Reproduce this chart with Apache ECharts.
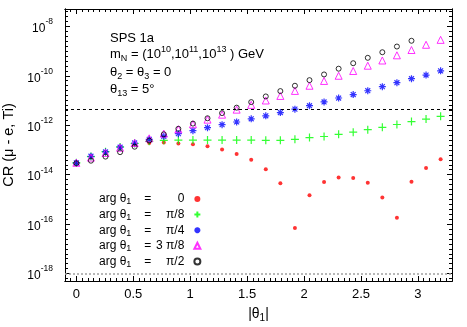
<!DOCTYPE html>
<html><head><meta charset="utf-8">
<script src="https://cdn.jsdelivr.net/npm/echarts@6/dist/echarts.min.js"></script>
<style>html,body{margin:0;padding:0;background:#fff}#c{width:467px;height:327px}</style>
</head><body><div id="c"></div>
<script>
// |theta_1| values
const theta1 = [0,0.128,0.256,0.384,0.512,0.64,0.768,0.896,1.024,1.152,1.28,1.408,1.536,1.664,1.792,1.92,2.048,2.176,2.304,2.432,2.56,2.688,2.816,2.944,3.072,3.2];
// CR(mu - e, Ti) for each arg theta_1
const crArg0 = [3.02e-14,5.37e-14,8.51e-14,1.29e-13,1.70e-13,1.91e-13,2.0e-13,1.82e-13,1.70e-13,1.41e-13,1.05e-13,6.92e-14,3.98e-14,1.66e-14,4.47e-15,6.92e-17,1.48e-15,5.01e-15,7.76e-15,7.41e-15,4.68e-15,1.20e-15,1.82e-16,5.13e-15,1.86e-14,4.17e-14];
const crArgPi8 = [3.02e-14,5.37e-14,8.51e-14,1.32e-13,1.82e-13,2.24e-13,2.45e-13,2.51e-13,2.51e-13,2.51e-13,2.51e-13,2.51e-13,2.50e-13,2.45e-13,2.45e-13,2.69e-13,3.16e-13,3.50e-13,4.30e-13,5.25e-13,6.61e-13,8.22e-13,1.07e-12,1.40e-12,1.78e-12,2.29e-12];
const crArgPi4 = [3.02e-14,5.57e-14,8.32e-14,1.29e-13,1.91e-13,2.69e-13,3.55e-13,4.57e-13,6.03e-13,7.94e-13,1.05e-12,1.35e-12,1.82e-12,2.40e-12,3.24e-12,4.47e-12,6.17e-12,8.71e-12,1.26e-11,1.74e-11,2.48e-11,3.63e-11,5.25e-11,7.59e-11,1.07e-10,1.58e-10];
const crArg3Pi8 = [3.02e-14,4.90e-14,7.59e-14,1.23e-13,1.91e-13,2.95e-13,4.57e-13,6.84e-13,1.09e-12,1.68e-12,2.67e-12,4.26e-12,6.65e-12,1.0e-11,1.53e-11,2.44e-11,3.95e-11,6.17e-11,1.0e-10,1.56e-10,2.55e-10,4.14e-10,6.71e-10,1.10e-9,1.79e-9,2.83e-9];
const crArgPi2 = [2.91e-14,3.67e-14,5.37e-14,8.13e-14,1.35e-13,2.40e-13,4.30e-13,7.16e-13,1.16e-12,1.91e-12,3.09e-12,5.13e-12,8.61e-12,1.46e-11,2.40e-11,3.95e-11,6.65e-11,1.13e-10,1.93e-10,3.22e-10,5.32e-10,8.95e-10,1.52e-9,2.60e-9];
const argLabels = ['0','π/8','π/4','3 π/8','π/2'];
// tick labels
const xTickLabels = [0,0.5,1,1.5,2,2.5,3];
const yDecadeLabels = [-18,-16,-14,-12,-10,-8];
// horizontal reference lines
const limitSindrum = 4.3e-12;
const limitPrism = 1e-18;

const FONT = 'Liberation Sans, Arial, Helvetica, sans-serif';
const X_MIN = -0.1, X_MAX = 3.3, Y_MIN = -18.3, Y_MAX = -7.3;

const xMinor = [];
for (let k = -1; k <= 65; k++) { if (k % 10 !== 0) xMinor.push(+(k * 0.05).toFixed(2)); }
const yMinor = [];
for (let k = -91; k <= -37; k++) { if (k % 10 !== 0) yMinor.push(+(k * 0.2).toFixed(1)); }

function pts(arr) { return arr.map((v, i) => [theta1[i], Math.log10(v)]); }

function xAx(pos, vals, len, labels) {
  const a = {
    type: 'value', min: X_MIN, max: X_MAX, position: pos,
    axisLine: { show: true, onZero: false, lineStyle: { color: '#000', width: 1 } }, splitLine: { show: false },
    axisTick: { show: true, inside: true, length: len, customValues: vals, lineStyle: { color: '#000', width: 1 } },
    axisLabel: { show: false }
  };
  if (labels) {
    a.axisLabel = { show: true, customValues: xTickLabels, margin: 7, fontSize: 13, color: '#000', fontFamily: FONT };
    a.name = '{a||θ}{s|1}{a||}';
    a.nameLocation = 'middle';
    a.nameGap = 24;
    a.nameTextStyle = { rich: {
      a: { fontSize: 14, fontFamily: FONT, color: '#000', lineHeight: 18 },
      s: { fontSize: 10, fontFamily: FONT, color: '#000', lineHeight: 10, verticalAlign: 'bottom' } } };
  }
  return a;
}
function yAx(pos, vals, len, labels) {
  const a = {
    type: 'value', min: Y_MIN, max: Y_MAX, position: pos,
    axisLine: { show: true, onZero: false, lineStyle: { color: '#000', width: 1 } }, splitLine: { show: false },
    axisTick: { show: true, inside: true, length: len, customValues: vals, lineStyle: { color: '#000', width: 1 } },
    axisLabel: { show: false }
  };
  if (labels) {
    a.axisLabel = { show: true, customValues: yDecadeLabels, margin: 12,
      formatter: v => '{b|10}{s|' + v + '}',
      rich: {
        b: { fontSize: 12, fontFamily: FONT, color: '#000', lineHeight: 18, padding: [5, 0, 0, 0] },
        s: { fontSize: 8.5, fontFamily: FONT, color: '#000', lineHeight: 10, verticalAlign: 'top' } } };
    a.name = 'CR (μ - e, Ti)';
    a.nameLocation = 'middle';
    a.nameGap = 39;
    a.nameTextStyle = { fontSize: 14.5, fontFamily: FONT, color: '#000' };
  }
  return a;
}

const symPlus = 'path://M0,5L10,5M5,0L5,10';
const symStar = 'path://M0,5L10,5M5,0L5,10M1.5,1.5L8.5,8.5M1.5,8.5L8.5,1.5';

function sc(name, data, symbol, size, style, extra) {
  return Object.assign({
    type: 'scatter', name: 'arg θ1 = ' + name, data: pts(data), symbol: symbol, symbolSize: size,
    symbolKeepAspect: true, xAxisIndex: 0, yAxisIndex: 0, itemStyle: style, silent: true,
    emphasis: { disabled: true }
  }, extra || {});
}

const series = [
  sc(argLabels[0], crArg0, 'circle', 4, { color: '#ff0000' }, {
    markLine: { silent: true, symbol: 'none', label: { show: false },
      data: [
        { yAxis: Math.log10(limitSindrum), lineStyle: { color: '#000', type: [3, 3], width: 1 } },
        { yAxis: Math.log10(limitPrism), lineStyle: { color: '#a0a0a0', type: [2, 2], width: 1.5 } }
      ] } }),
  sc(argLabels[1], crArgPi8, symPlus, 8, { color: 'rgba(0,0,0,0)', borderColor: '#00ff00', borderWidth: 1.2 }),
  sc(argLabels[2], crArgPi4, symStar, 7, { color: 'rgba(0,0,0,0)', borderColor: '#0000ff', borderWidth: 1.2 }),
  sc(argLabels[3], crArg3Pi8, 'triangle', 7, { color: 'rgba(0,0,0,0)', borderColor: '#ff00ff', borderWidth: 1 }),
  sc(argLabels[4], crArgPi2, 'circle', 5, { color: 'rgba(0,0,0,0)', borderColor: '#000', borderWidth: 1 })
];

const chart = echarts.init(document.getElementById('c'), null, { renderer: 'canvas' });
chart.setOption({
  animation: false,
  backgroundColor: '#fff',
  grid: { left: 65, right: 15, top: 9, bottom: 46, containLabel: false, outerBoundsMode: 'none', show: false },
  xAxis: [xAx('bottom', xTickLabels, 5, true), xAx('bottom', xMinor, 3, false), xAx('top', xTickLabels, 5, false), xAx('top', xMinor, 3, false)],
  yAxis: [yAx('left', yDecadeLabels, 5, true), yAx('left', yMinor, 3, false), yAx('right', yDecadeLabels, 5, false), yAx('right', yMinor, 3, false)],
  legend: {
    orient: 'vertical', left: 99, top: 193, padding: 0, align: 'right', itemWidth: 6, itemHeight: 6, itemGap: 2.1,
    selectedMode: false,
    formatter: n => '{a|arg θ}{s|1}{e|=}{v|' + n.replace('arg θ1 = ', '') + '}',
    textStyle: { padding: [0, 5, 0, 0], rich: {
      a: { fontSize: 12, fontFamily: FONT, color: '#000', lineHeight: 15 },
      s: { fontSize: 9, fontFamily: FONT, color: '#000', lineHeight: 9, verticalAlign: 'bottom' },
      e: { fontSize: 12, fontFamily: FONT, color: '#000', padding: [0, 0, 0, 13] },
      v: { fontSize: 12, fontFamily: FONT, color: '#000', width: 33, align: 'right' } } },
    data: series.map(s => s.name)
  },
  graphic: [
    { type: 'text', x: 110, y: 38, silent: true, style: { text: 'SPS 1a', font: '13px ' + FONT, fill: '#000', verticalAlign: 'middle' } },
    { type: 'text', x: 110, y: 54, silent: true, style: {
      text: '{t|m}{d|N}{t| = (10}{u|10}{t|,10}{u|11}{t|,10}{u|13}{t| ) GeV}', verticalAlign: 'middle',
      rich: { t: { fontSize: 13, fontFamily: FONT, fill: '#000', lineHeight: 18 },
              u: { fontSize: 9, fontFamily: FONT, fill: '#000', lineHeight: 9, verticalAlign: 'top' },
              d: { fontSize: 9, fontFamily: FONT, fill: '#000', lineHeight: 9, verticalAlign: 'bottom' } } } },
    { type: 'text', x: 110, y: 72, silent: true, style: {
      text: '{t|θ}{d|2}{t| = θ}{d|3}{t| = 0}', verticalAlign: 'middle',
      rich: { t: { fontSize: 13, fontFamily: FONT, fill: '#000', lineHeight: 18 },
              d: { fontSize: 9, fontFamily: FONT, fill: '#000', lineHeight: 9, verticalAlign: 'bottom' } } } },
    { type: 'text', x: 110, y: 89, silent: true, style: {
      text: '{t|θ}{d|13}{t| = 5°}', verticalAlign: 'middle',
      rich: { t: { fontSize: 13, fontFamily: FONT, fill: '#000', lineHeight: 18 },
              d: { fontSize: 9, fontFamily: FONT, fill: '#000', lineHeight: 9, verticalAlign: 'bottom' } } } }
  ],
  series: series
});
</script></body></html>
